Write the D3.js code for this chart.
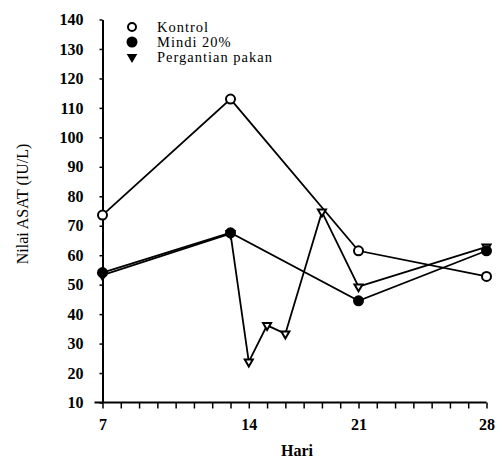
<!DOCTYPE html>
<html>
<head>
<meta charset="utf-8">
<script src="https://cdn.jsdelivr.net/npm/d3@7"></script>
<style>
  html, body { margin: 0; padding: 0; background: #fff; }
  svg { display: block; }
  text { font-family: "Liberation Serif", "Times New Roman", serif; fill: #000; }
</style>
</head>
<body>
<svg id="chart" width="502" height="463"></svg>
<script>
// ---- data ----
const seriesNames = ["Kontrol", "Mindi 20%", "Pergantian pakan"];
const kontrolDays = [7, 14, 21, 28];
const kontrolValues = [73.6, 113, 61.5, 52.8];
const mindiDays = [7, 14, 21, 28];
const mindiValues = [54.1, 67.6, 44.5, 61.5];
const pakanDays = [7, 14, 15, 16, 17, 19, 21, 28];
const pakanValues = [53.2, 67.3, 23.8, 36.2, 33.3, 74.7, 49.3, 62.8];
const yTicks = [10, 20, 30, 40, 50, 60, 70, 80, 90, 100, 110, 120, 130, 140];
const xTickLabels = ["7", "14", "21", "28"];
const xTickLabelAt = [7, 15, 21, 28];
const xMinorTicks = d3.range(7, 29, 1);

// ---- layout ----
const svg = d3.select("#chart");
const x = d3.scaleLinear().domain([7, 28]).range([102.5, 486.5]);
const y = d3.scaleLinear().domain([10, 140]).range([402.5, 19.5]);

// y axis
const yAxis = svg.append("g").attr("transform", `translate(${x(7)},0)`)
  .call(d3.axisLeft(y).tickValues(yTicks).tickSize(3).tickPadding(16).tickSizeOuter(0));
yAxis.select(".domain").attr("stroke", "#000").attr("stroke-width", 2);
yAxis.selectAll(".tick line").attr("stroke", "#000").attr("stroke-width", 1.5);
yAxis.selectAll(".tick text").attr("font-size", 16).attr("font-weight", "bold")
  .style("font-family", "Liberation Serif, serif");

// x axis line (extends a bit to the left)
svg.append("line").attr("x1", x(7) - 8).attr("x2", x(28))
  .attr("y1", y(10)).attr("y2", y(10))
  .attr("stroke", "#000").attr("stroke-width", 2);
const xAxis = svg.append("g").attr("transform", `translate(0,${y(10)})`)
  .call(d3.axisBottom(x).tickValues(xMinorTicks).tickSize(6).tickFormat(""));
xAxis.select(".domain").remove();
xAxis.selectAll(".tick line").attr("stroke", "#000").attr("stroke-width", 1.5);
const xLab = svg.append("g").attr("transform", `translate(0,${y(10)})`)
  .call(d3.axisBottom(x).tickValues(xTickLabelAt).tickSize(0).tickPadding(16)
    .tickFormat((d, i) => xTickLabels[i]));
xLab.select(".domain").remove();
xLab.selectAll(".tick text").attr("font-size", 16).attr("font-weight", "bold")
  .style("font-family", "Liberation Serif, serif");

// axis titles
svg.append("text").attr("x", 297).attr("y", 456).attr("text-anchor", "middle")
  .attr("font-size", 16).attr("font-weight", "bold").text("Hari");
svg.append("text").attr("transform", "translate(28,204) rotate(-90)")
  .attr("text-anchor", "middle").attr("font-size", 16).text("Nilai ASAT (IU/L)");

// lines
const line = d3.line().x(d => x(d[0])).y(d => y(d[1]));
const series = [
  { days: kontrolDays, vals: kontrolValues, type: "open" },
  { days: pakanDays, vals: pakanValues, type: "tri" },
  { days: mindiDays, vals: mindiValues, type: "filled" }
];
series.forEach(s => {
  const pts = s.days.map((d, i) => [d, s.vals[i]]);
  svg.append("path").datum(pts).attr("d", line)
    .attr("fill", "none").attr("stroke", "#000").attr("stroke-width", 1.8);
});

function drawMarker(g, type, cx, cy, legend) {
  if (type === "open") {
    g.append("circle").attr("cx", cx).attr("cy", cy).attr("r", legend ? 4 : 4.5)
      .attr("fill", "#fff").attr("stroke", "#000").attr("stroke-width", 2);
  } else if (type === "filled") {
    g.append("circle").attr("cx", cx).attr("cy", cy).attr("r", 5.5)
      .attr("fill", "#000");
  } else {
    const sym = d3.symbol().type(d3.symbolTriangle).size(legend ? 22 : 28);
    g.append("path").attr("d", sym())
      .attr("transform", `translate(${cx},${cy}) rotate(180)`)
      .attr("fill", legend ? "#000" : "#fff").attr("stroke", "#000").attr("stroke-width", 2);
  }
}
series.forEach(s => {
  const g = svg.append("g");
  s.days.forEach((d, i) => drawMarker(g, s.type, x(d), y(s.vals[i]), false));
});

// legend
const legendTypes = ["open", "filled", "tri"];
seriesNames.forEach((name, i) => {
  const ly = 27 + i * 15;
  const g = svg.append("g");
  drawMarker(g, legendTypes[i], 132, ly, true);
  g.append("text").attr("x", 157).attr("y", ly + 5)
    .attr("font-size", 14.5).attr("letter-spacing", 1).text(name);
});
</script>
</body>
</html>
